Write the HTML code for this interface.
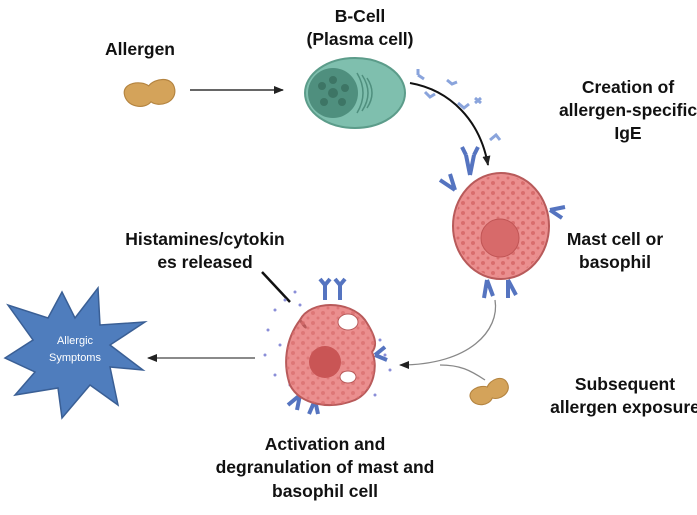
<!DOCTYPE html>
<html><head><meta charset="utf-8"><style>
body{margin:0;background:#fff;width:697px;height:510px;overflow:hidden}
svg text{font-family:"Liberation Sans",sans-serif}
.t{font-weight:bold;font-size:17.5px;fill:#111;text-anchor:middle}
</style></head><body>
<svg width="697" height="510" viewBox="0 0 697 510">
<defs>
<marker id="a" markerWidth="10" markerHeight="10" refX="9" refY="5" orient="auto" markerUnits="userSpaceOnUse"><path d="M0,1 L10,5 L0,9z" fill="#222"/></marker>
<pattern id="dots" width="10" height="10" patternUnits="userSpaceOnUse"><circle cx="3" cy="3" r="2" fill="#d96d6d"/><circle cx="8" cy="8" r="1.5" fill="#d96d6d"/></pattern>
</defs>
<text class="t" x="140" y="55">Allergen</text>
<text class="t" x="360" y="22">B-Cell</text>
<text class="t" x="360" y="45">(Plasma cell)</text>
<text class="t" x="628" y="93">Creation of</text>
<text class="t" x="628" y="116">allergen-specific</text>
<text class="t" x="628" y="139">IgE</text>
<text class="t" x="615" y="245">Mast cell or</text>
<text class="t" x="615" y="268">basophil</text>
<text class="t" x="205" y="245">Histamines/cytokin</text>
<text class="t" x="205" y="268">es released</text>
<text class="t" x="625" y="390">Subsequent</text>
<text class="t" x="625" y="413">allergen exposure</text>
<text class="t" x="325" y="450">Activation and</text>
<text class="t" x="325" y="473">degranulation of mast and</text>
<text class="t" x="325" y="497">basophil cell</text>
<!-- peanuts -->
<g transform="translate(150,95) rotate(-8) scale(1.15)"><path d="M-22,-4 C-22,-14 -6,-14 0,-8 C6,-14 22,-14 22,-2 C22,10 6,12 0,6 C-6,12 -22,8 -22,-4z" fill="#d4a35a" stroke="#b48440"/></g>
<g transform="translate(490,393) rotate(-25) scale(1.1)"><path d="M-18,-3 C-18,-11 -5,-11 0,-6 C5,-11 18,-11 18,-1 C18,8 5,10 0,5 C-5,10 -18,7 -18,-3z" fill="#d4a35a" stroke="#b48440"/></g>
<line x1="190" y1="90" x2="283" y2="90" stroke="#333" stroke-width="1.5" marker-end="url(#a)"/>
<!-- B cell -->
<ellipse cx="355" cy="93" rx="50" ry="35" fill="#7fbfae" stroke="#5c9c8a" stroke-width="2"/>
<circle cx="333" cy="93" r="25" fill="#4f8f7e"/>
<g fill="#3d7565"><circle cx="333" cy="93" r="5"/><circle cx="333" cy="80" r="4"/><circle cx="345" cy="88" r="4"/><circle cx="342" cy="102" r="4"/><circle cx="324" cy="102" r="4"/><circle cx="322" cy="86" r="4"/></g>
<g fill="none" stroke="#4f8f7e" stroke-width="1.5"><path d="M357,73 q12,20 0,40"/><path d="M362,75 q12,18 0,36"/><path d="M367,78 q10,15 0,30"/></g>
<path d="M410,83 C450,90 480,120 488,165" fill="none" stroke="#111" stroke-width="2" marker-end="url(#a)"/>
<g stroke="#8aa4dc" stroke-width="3" fill="none"><path d="M418,75 l0,-6 m0,6 l6,4"/><path d="M425,92 l5,5 l5,-3"/><path d="M447,80 l5,4 l5,-2"/><path d="M458,103 l6,5 l5,-4"/><path d="M475,98 l6,5 m0,-5 l-6,5"/><path d="M490,140 l6,-5 l4,5"/></g>
<!-- mast cell -->
<g stroke="#5574c0" stroke-width="4" fill="none"><path d="M470,175 l-4,-20 m4,20 l4,-20 m-8,0 l-4,-8 m12,8 l4,-8"/><path d="M455,190 l-15,-10 m15,10 l-5,-16"/><path d="M550,210 l15,-3 m-15,3 l12,8"/><path d="M487,280 l-3,18 m3,-18 l6,16"/><path d="M508,280 l0,18 m0,-18 l8,15"/></g>
<ellipse cx="501" cy="226" rx="48" ry="53" fill="#eb8f8f" stroke="#b85a5a" stroke-width="2"/>
<ellipse cx="501" cy="226" rx="46" ry="51" fill="url(#dots)"/>
<circle cx="500" cy="238" r="19" fill="#d76a6a" stroke="#c05555"/>
<!-- gray arrows -->
<path d="M495,300 C500,330 470,365 400,365" fill="none" stroke="#888" stroke-width="1.3" marker-end="url(#a)"/>
<path d="M485,380 C470,370 460,365 440,365" fill="none" stroke="#888" stroke-width="1.3"/>
<!-- degranulated cell -->
<line x1="262" y1="272" x2="290" y2="302" stroke="#111" stroke-width="2.5"/>
<g fill="#8a8ed8"><circle cx="275" cy="310" r="1.5"/><circle cx="285" cy="300" r="1.5"/><circle cx="268" cy="330" r="1.5"/><circle cx="280" cy="345" r="1.5"/><circle cx="275" cy="375" r="1.5"/><circle cx="290" cy="385" r="1.5"/><circle cx="360" cy="330" r="1.5"/><circle cx="380" cy="340" r="1.5"/><circle cx="390" cy="370" r="1.5"/><circle cx="375" cy="395" r="1.5"/><circle cx="295" cy="292" r="1.5"/><circle cx="300" cy="305" r="1.5"/><circle cx="265" cy="355" r="1.5"/><circle cx="385" cy="355" r="1.5"/></g>
<g stroke="#5574c0" stroke-width="4" fill="none"><path d="M325,300 l0,-15 m0,0 l-5,-6 m5,6 l5,-6"/><path d="M340,300 l0,-15 m0,0 l-5,-6 m5,6 l5,-6"/><path d="M375,355 l12,5 m-12,-5 l10,-8"/><path d="M300,395 l-12,10 m12,-10 l-3,15"/><path d="M315,400 l-6,14 m6,-14 l3,14"/></g>
<path d="M300,320 C310,300 350,300 365,320 C375,335 378,345 372,352 C378,365 375,390 355,400 C330,410 300,405 290,385 C283,365 285,340 300,320 C305,330 310,330 300,320z" fill="#eb8f8f" stroke="#b85a5a" stroke-width="2"/>
<path d="M300,320 C310,300 350,300 365,320 C375,335 378,345 372,352 C378,365 375,390 355,400 C330,410 300,405 290,385 C283,365 285,340 300,320z" fill="url(#dots)" opacity="0.7"/>
<ellipse cx="348" cy="322" rx="10" ry="8" fill="#fff" stroke="#b85a5a"/>
<ellipse cx="348" cy="377" rx="8" ry="6" fill="#fff" stroke="#b85a5a"/>
<circle cx="325" cy="362" r="16" fill="#c95555"/>
<line x1="255" y1="358" x2="148" y2="358" stroke="#444" stroke-width="1.3" marker-end="url(#a)"/>
<!-- star -->
<polygon points="98,288 100,325 145,322 110,345 143,370 110,367 118,405 90,385 62,418 58,388 15,395 35,372 5,358 33,340 8,305 48,318 62,292 75,318" fill="#4f7dbd" stroke="#3a5f95" stroke-width="1.5"/>
<text x="75" y="344" font-size="11" fill="#fff" text-anchor="middle">Allergic</text>
<text x="75" y="361" font-size="11" fill="#fff" text-anchor="middle">Symptoms</text>
</svg>
</body></html>
